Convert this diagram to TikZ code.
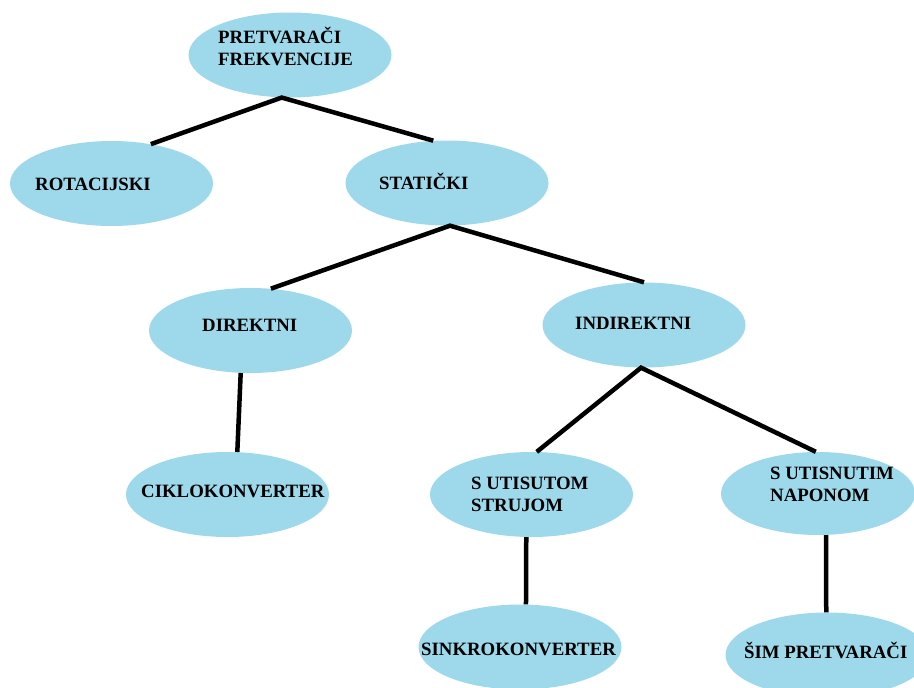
\documentclass[tikz,border=0pt]{standalone}
\usepackage{fontspec}
\setmainfont{Liberation Serif}
\usetikzlibrary{shapes.geometric}
\definecolor{nodeblue}{RGB}{157,217,234}
\tikzset{
  ell/.style={ellipse, fill=nodeblue, draw=none, inner sep=0pt, minimum width=203pt, minimum height=85pt},
  lbl/.style={anchor=base west, inner sep=0pt, font=\fontsize{18.8}{22}\selectfont\bfseries},
  conn/.style={line width=4.5pt, black}
}
\begin{document}
\begin{tikzpicture}[x=1pt,y=-1pt]
\useasboundingbox (0,0) rectangle (914,688);
\clip (0,0) rectangle (914,688);
% ellipses
\node[ell] (top) at (290,55) {};
\node[ell] (rot) at (111.5,183.5) {};
\node[ell] (stat) at (447,183) {};
\node[ell] (dir) at (250.5,330.5) {};
\node[ell] (ind) at (644,325) {};
\node[ell] (cik) at (227.5,494.5) {};
\node[ell] (sut) at (531.5,494.5) {};
\node[ell, minimum width=194pt, minimum height=83pt] (snap) at (818,493.5) {};
\node[ell] (sink) at (520,647) {};
\node[ell] (sim) at (827,655) {};
% labels
\node[lbl] (t1a) at (218,43) {PRETVARAČI};
\node[lbl] (t1b) at (218,65) {FREKVENCIJE};
\node[lbl] (t2) at (35,190) {ROTACIJSKI};
\node[lbl] (t3) at (379,189) {STATIČKI};
\node[lbl] (t4) at (202,331) {DIREKTNI};
\node[lbl] (t5) at (575,329) {INDIREKTNI};
\node[lbl] (t6) at (141,497) {CIKLOKONVERTER};
\node[lbl] (t7a) at (471,489) {S UTISUTOM};
\node[lbl] (t7b) at (471,511) {STRUJOM};
\node[lbl] (t8a) at (770,479) {S UTISNUTIM};
\node[lbl] (t8b) at (770,501) {NAPONOM};
\node[lbl] (t9) at (421,655) {SINKROKONVERTER};
\node[lbl] (t10) at (744,658) {ŠIM PRETVARAČI};
% connectors
\draw[conn] (rot.45) -- (top.259) -- (stat.108);
\draw[conn] (dir.64) -- (stat.274) -- (ind.north);
\draw[conn] (dir.257) -- (cik.77);
\draw[conn] (sut.83) -- (ind.266) -- (snap.93);
\draw[conn] (sut.263) -- (sink.82);
\draw[conn] (snap.281) -- (sim.91);
\end{tikzpicture}
\end{document}
